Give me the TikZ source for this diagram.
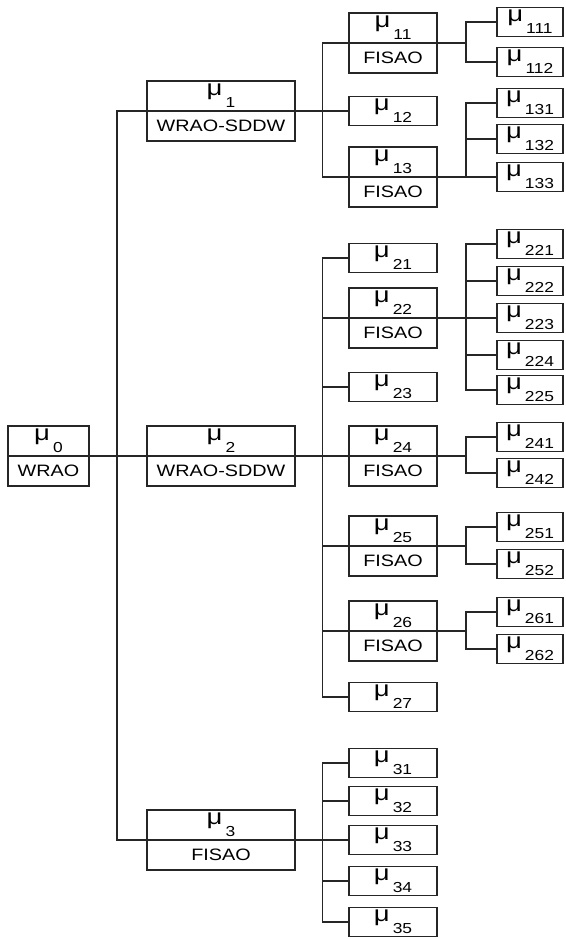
\documentclass[tikz,border=0pt]{standalone}
\usepackage{fontspec}
\setmainfont{Liberation Sans}[FakeStretch=1.2]
\newfontfamily\mufont{Liberation Sans}[FakeStretch=1.25]
\newcommand{\mub}[1]{{\mufont\fontsize{22}{22}\selectfont μ}\hspace{3pt}\raisebox{-12pt}{\fontsize{14.5}{14.5}\selectfont #1}}
\newcommand{\twohalf}[3]{\vbox{\offinterlineskip
  \hbox to #1{\hss\vbox to 30pt{\vss\hbox{#2}\vss}\hss}%
  \hbox to #1{\hss\vbox to 30pt{\vss\hbox{#3}\vss}\hss}}}

\begin{document}
\begin{tikzpicture}[x=1pt,y=-1pt,
  mbox/.style={draw=black!85,line width=1.2pt,inner sep=0pt,font=\fontsize{16.5}{16.5}\selectfont},
  twobox/.style={mbox,path picture={\draw[black!85,line width=1.1pt] (path picture bounding box.west) -- (path picture bounding box.east);}},
  leaf/.style={mbox,minimum width=#1,minimum height=29pt},
  wire/.style={draw=black!85,line width=1.1pt}]
\useasboundingbox (0,0) rectangle (565,939);

% bus lines
\coordinate (b1) at (117,0);
\coordinate (b2) at (322.5,0);
\coordinate (b3) at (466,0);

% root and first level
\node[twobox] (m0) at (48.5,456) {\twohalf{81pt}{\mub{0}}{WRAO}};
\node[twobox] (m1) at (221,111) {\twohalf{148pt}{\mub{1}}{WRAO-SDDW}};
\node[twobox] (m2) at (221,456) {\twohalf{148pt}{\mub{2}}{WRAO-SDDW}};
\node[twobox] (m3) at (221,840) {\twohalf{148pt}{\mub{3}}{FISAO}};

% second level
\node[twobox] (m11) at (393,43) {\twohalf{88pt}{\mub{11}}{FISAO}};
\node[leaf=88pt] (m12) at (393,111) {\mub{12}};
\node[twobox] (m13) at (393,177) {\twohalf{88pt}{\mub{13}}{FISAO}};

\node[leaf=88pt] (m21) at (393,258) {\mub{21}};
\node[twobox] (m22) at (393,318) {\twohalf{88pt}{\mub{22}}{FISAO}};
\node[leaf=88pt] (m23) at (393,387) {\mub{23}};
\node[twobox] (m24) at (393,456) {\twohalf{88pt}{\mub{24}}{FISAO}};
\node[twobox] (m25) at (393,546) {\twohalf{88pt}{\mub{25}}{FISAO}};
\node[twobox] (m26) at (393,631) {\twohalf{88pt}{\mub{26}}{FISAO}};
\node[leaf=88pt] (m27) at (393,697) {\mub{27}};

\node[leaf=88pt] (m31) at (393,763) {\mub{31}};
\node[leaf=88pt] (m32) at (393,801) {\mub{32}};
\node[leaf=88pt] (m33) at (393,840) {\mub{33}};
\node[leaf=88pt] (m34) at (393,881) {\mub{34}};
\node[leaf=88pt] (m35) at (393,922) {\mub{35}};

% third level
\node[leaf=66pt] (m111) at (530,22) {\mub{111}};
\node[leaf=66pt] (m112) at (530,62) {\mub{112}};
\node[leaf=66pt] (m131) at (530,103) {\mub{131}};
\node[leaf=66pt] (m132) at (530,139) {\mub{132}};
\node[leaf=66pt] (m133) at (530,177) {\mub{133}};

\node[leaf=66pt] (m221) at (530,244) {\mub{221}};
\node[leaf=66pt] (m222) at (530,281) {\mub{222}};
\node[leaf=66pt] (m223) at (530,318) {\mub{223}};
\node[leaf=66pt] (m224) at (530,355) {\mub{224}};
\node[leaf=66pt] (m225) at (530,390) {\mub{225}};

\node[leaf=66pt] (m241) at (530,437) {\mub{241}};
\node[leaf=66pt] (m242) at (530,473) {\mub{242}};
\node[leaf=66pt] (m251) at (530,527) {\mub{251}};
\node[leaf=66pt] (m252) at (530,564) {\mub{252}};
\node[leaf=66pt] (m261) at (530,612) {\mub{261}};
\node[leaf=66pt] (m262) at (530,649) {\mub{262}};

% root to first level
\draw[wire] (m0.east) -- (m2.west);
\draw[wire] (m1.west) -| (m0.east -| b1) |- (m3.west);

% first to second level
\draw[wire] (m1.east) -- (m12.west);
\draw[wire] (m11.west) -| (m1.east -| b2) |- (m13.west);

\draw[wire] (m2.east) -- (m24.west);
\draw[wire] (m21.west) -| (m2.east -| b2) |- (m27.west);
\draw[wire] (m22.west) -- (m22.west -| b2);
\draw[wire] (m23.west) -- (m23.west -| b2);
\draw[wire] (m25.west) -- (m25.west -| b2);
\draw[wire] (m26.west) -- (m26.west -| b2);

\draw[wire] (m3.east) -- (m33.west);
\draw[wire] (m31.west) -| (m3.east -| b2) |- (m35.west);
\draw[wire] (m32.west) -- (m32.west -| b2);
\draw[wire] (m34.west) -- (m34.west -| b2);

% second to third level
\draw[wire] (m11.east) -- (m11.east -| b3);
\draw[wire] (m111.west) -| (m11.east -| b3) |- (m112.west);

\draw[wire] (m13.east) -- (m133.west);
\draw[wire] (m131.west) -| (m13.east -| b3);
\draw[wire] (m132.west) -- (m132.west -| b3);

\draw[wire] (m22.east) -- (m223.west);
\draw[wire] (m221.west) -| (m22.east -| b3) |- (m225.west);
\draw[wire] (m222.west) -- (m222.west -| b3);
\draw[wire] (m224.west) -- (m224.west -| b3);

\draw[wire] (m24.east) -- (m24.east -| b3);
\draw[wire] (m241.west) -| (m24.east -| b3) |- (m242.west);
\draw[wire] (m25.east) -- (m25.east -| b3);
\draw[wire] (m251.west) -| (m25.east -| b3) |- (m252.west);
\draw[wire] (m26.east) -- (m26.east -| b3);
\draw[wire] (m261.west) -| (m26.east -| b3) |- (m262.west);

\end{tikzpicture}
\end{document}
